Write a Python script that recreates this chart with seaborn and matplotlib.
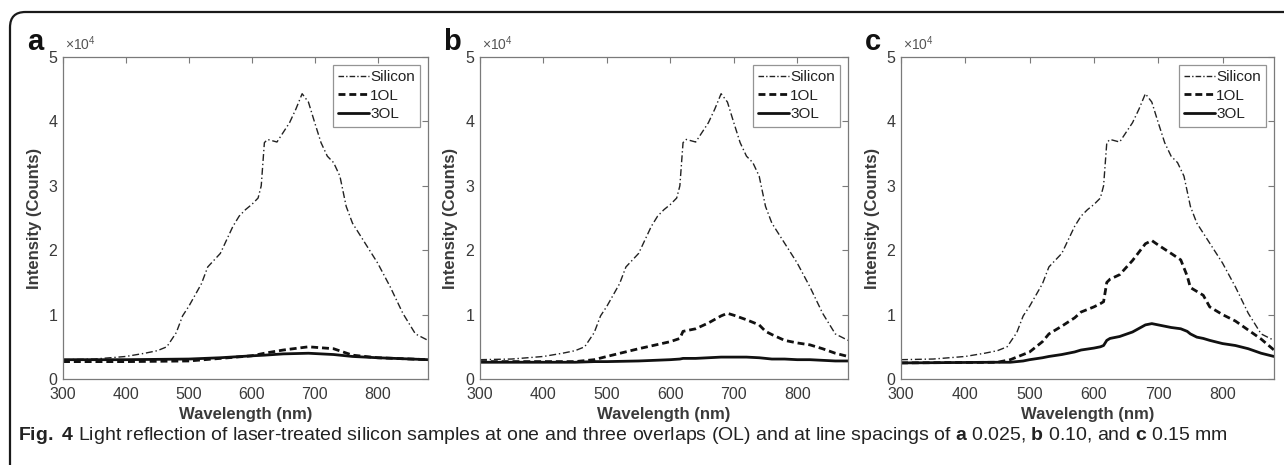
import numpy as np
import pandas as pd
import matplotlib
matplotlib.use("Agg")
import matplotlib.pyplot as plt
from matplotlib.patches import FancyBboxPatch
import seaborn as sns

sns.set_theme(style="white")
plt.rcParams['font.family'] = ['Liberation Sans', 'DejaVu Sans']
plt.rcParams['mathtext.fontset'] = 'custom'
plt.rcParams['mathtext.rm'] = 'Liberation Sans'
plt.rcParams['mathtext.bf'] = 'Liberation Sans:bold'

# ---- data (intensity in units of 1e4 counts) ----
si_wl = [300, 350, 400, 430, 450, 465, 480, 490, 500, 520, 530, 550, 570, 580, 590, 600, 610, 615,
         620, 625, 640, 650, 660, 670, 680, 690, 700, 710, 720, 730, 740, 750, 760, 780, 800, 820,
         840, 860, 880]
si_val = [0.30, 0.31, 0.35, 0.40, 0.44, 0.50, 0.72, 0.98, 1.13, 1.48, 1.74, 1.95, 2.37, 2.53, 2.63,
          2.71, 2.81, 3.00, 3.67, 3.72, 3.68, 3.83, 3.98, 4.19, 4.43, 4.30, 3.98, 3.67, 3.46, 3.36,
          3.15, 2.68, 2.42, 2.11, 1.80, 1.43, 1.02, 0.70, 0.60]

a_wl = [300, 400, 500, 550, 600, 620, 650, 690, 730, 760, 800, 880]
a_1ol = [0.27, 0.27, 0.28, 0.32, 0.36, 0.40, 0.45, 0.50, 0.47, 0.37, 0.33, 0.30]
a_3ol = [0.30, 0.30, 0.31, 0.33, 0.36, 0.37, 0.39, 0.40, 0.38, 0.35, 0.33, 0.30]

b_wl = [300, 450, 480, 500, 550, 600, 615, 620, 640, 660, 680, 690, 700, 720, 740, 750, 760, 780,
        800, 820, 840, 860, 880]
b_1ol = [0.27, 0.27, 0.30, 0.35, 0.47, 0.58, 0.63, 0.74, 0.78, 0.87, 0.98, 1.02, 0.99, 0.92, 0.84,
         0.74, 0.69, 0.60, 0.56, 0.53, 0.47, 0.40, 0.35]
b_3ol = [0.26, 0.26, 0.27, 0.27, 0.28, 0.30, 0.31, 0.32, 0.32, 0.33, 0.34, 0.34, 0.34, 0.34, 0.33,
         0.32, 0.31, 0.31, 0.30, 0.30, 0.29, 0.28, 0.28]

c_wl = [300, 450, 470, 490, 500, 520, 530, 550, 570, 580, 600, 610, 615, 620, 625, 640, 660, 680,
        690, 700, 720, 735, 745, 750, 760, 770, 780, 800, 820, 840, 860, 880]
c_1ol = [0.25, 0.26, 0.30, 0.38, 0.42, 0.58, 0.70, 0.82, 0.95, 1.04, 1.12, 1.17, 1.20, 1.50, 1.55,
         1.62, 1.84, 2.10, 2.15, 2.08, 1.95, 1.85, 1.60, 1.42, 1.36, 1.30, 1.12, 1.00, 0.90, 0.76,
         0.62, 0.45]
c_3ol = [0.25, 0.26, 0.26, 0.28, 0.30, 0.33, 0.35, 0.38, 0.42, 0.45, 0.48, 0.50, 0.52, 0.60, 0.63,
         0.66, 0.73, 0.84, 0.86, 0.84, 0.80, 0.78, 0.74, 0.70, 0.65, 0.63, 0.60, 0.55, 0.52, 0.47,
         0.40, 0.35]

panels = [("a", a_wl, a_1ol, a_3ol), ("b", b_wl, b_1ol, b_3ol), ("c", c_wl, c_1ol, c_3ol)]
x_ticks = [300, 400, 500, 600, 700, 800]
y_ticks = [0, 1, 2, 3, 4, 5]

W, H = 1284, 465
fig = plt.figure(figsize=(W / 100, H / 100), dpi=100)

# outer rounded frame (top-left corner visible, continues past right/bottom edges)
fy0 = -0.5
frame = FancyBboxPatch((10 / W, fy0), 1.2, (1 - 12 / H) - fy0,
                       boxstyle="round,pad=0,rounding_size=0.012",
                       transform=fig.transFigure, fill=False, edgecolor="#1a1a1a", lw=1.6,
                       mutation_aspect=W / H)
fig.patches.append(frame)

ax_pos = [(63, 428), (480, 848), (901, 1274)]
top_px, bot_px = 57, 379
txt_col = "#3a3a3a"
ax_col = "#7a7a7a"

for (lab, wl, ol1, ol3), (l, r) in zip(panels, ax_pos):
    ax = fig.add_axes([l / W, 1 - bot_px / H, (r - l) / W, (bot_px - top_px) / H])
    sns.lineplot(x=si_wl, y=si_val, ax=ax, color="#222222", lw=1.0, label="Silicon")
    sns.lineplot(x=wl, y=ol1, ax=ax, color="#111111", lw=2.0, label="1OL")
    sns.lineplot(x=wl, y=ol3, ax=ax, color="#111111", lw=2.0, label="3OL")
    lines = ax.get_lines()
    lines[0].set_dashes([5, 2, 1, 2])
    lines[1].set_dashes([2.5, 1.4])
    ax.set_xlim(300, 880)
    ax.set_ylim(0, 5)
    ax.set_xticks(x_ticks)
    ax.set_yticks(y_ticks)
    ax.tick_params(direction="in", top=True, right=True, length=4, width=0.8, color=ax_col,
                   labelsize=11.5, labelcolor=txt_col)
    ax.tick_params(axis="x", pad=6)
    ax.tick_params(axis="y", pad=4)
    for s in ax.spines.values():
        s.set_color(ax_col)
        s.set_linewidth(0.9)
    ax.set_xlabel("Wavelength (nm)", fontsize=12, fontweight="bold", color=txt_col, labelpad=3)
    ax.set_ylabel("Intensity (Counts)", fontsize=12, fontweight="bold", color=txt_col, labelpad=5)
    ax.text(0.005, 1.012, r"$\times$10$^4$", transform=ax.transAxes, fontsize=10, color="#555555",
            ha="left", va="bottom")
    ax.text(-0.075, 1.022, lab, transform=ax.transAxes, fontsize=21, fontweight="bold",
            color="#111111", ha="center", va="baseline")
    leg = ax.legend(loc="upper right", fontsize=11, frameon=True, fancybox=False,
                    handlelength=2.0, handletextpad=0.1, borderpad=0.35, labelspacing=0.3,
                    borderaxespad=0.5)
    leg.get_frame().set_edgecolor(ax_col)
    leg.get_frame().set_linewidth(0.9)
    for t in leg.get_texts():
        t.set_color("#222222")
    handles = leg.legend_handles
    handles[0].set_dashes([4, 1.5, 1, 1.5])
    handles[1].set_dashes([2.5, 1.4])

# caption
fig.text(18 / W, 1 - 435 / H,
         r"$\bf{Fig.}$ $\bf{4}$ Light reflection of laser-treated silicon samples at one and three overlaps (OL) "
         r"and at line spacings of $\bf{a}$ 0.025, $\bf{b}$ 0.10, and $\bf{c}$ 0.15 mm",
         fontsize=14, color="#222222", ha="left", va="center")

fig.savefig("out.png", dpi=100)
